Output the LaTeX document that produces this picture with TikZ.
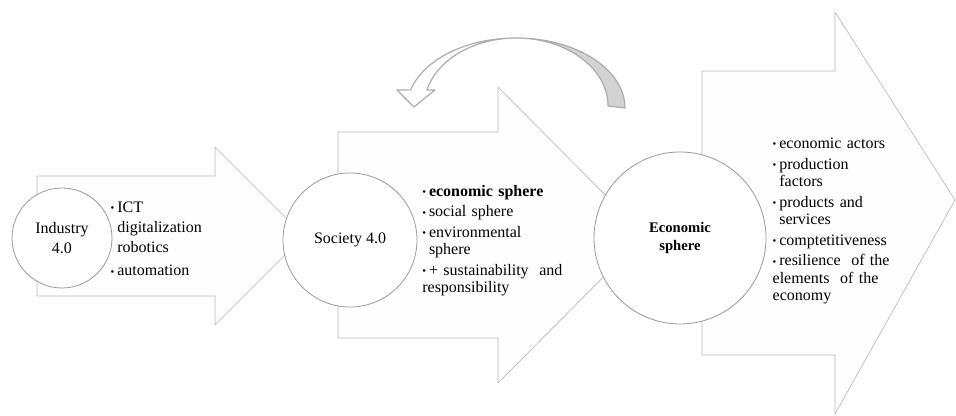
\documentclass[tikz,border=0pt]{standalone}
\usepackage{fontspec}
\setmainfont{Liberation Serif}
\usetikzlibrary{positioning}
% bullet item with hanging indent
\newcommand{\bitem}[1]{\par\vspace{2.5pt}\hangindent=5pt\hangafter=1\noindent\makebox[5pt][l]{\raisebox{.5pt}{\footnotesize\textbullet}}#1}
\begin{document}
\begin{tikzpicture}[x=.75pt,y=.75pt,line join=round,
	arr/.style={draw=gray!55,fill=gray!1,line width=.5pt},
	circ/.style={circle,draw=gray!80,fill=white,line width=.6pt,align=center,inner sep=0pt,font=\fontsize{12}{15}\selectfont},
	lst/.style={inner sep=0pt,text width=#1,font=\fontsize{12}{13}\selectfont},
	curv/.style={draw=gray!65,line width=.9pt}]
	\useasboundingbox (0,0) rectangle (956,416);
	% big arrows: left, right, body half, head half, tip x, centre, tip y
	\foreach \bl/\br/\bh/\hh/\tx/\cy/\ty in {37/215/60/89/304/180/180, 338/498/103/148/645/181/181, 702/835/142/201/955/203/216}
		\draw[arr] (\bl,\cy-\bh)--(\br,\cy-\bh)--(\br,\cy-\hh)--(\tx,\ty)--(\br,\cy+\hh)--(\br,\cy+\bh)--(\bl,\cy+\bh)--cycle;
	\node[circ,minimum size=75pt] (ind) at (62,178) {Industry\\4.0};
	\node[circ,minimum size=100.5pt] (soc) at (350,176) {Society 4.0};
	\node[circ,minimum size=129pt,font=\fontsize{11}{13.5}\selectfont\bfseries] (eco) at (680,178) {Economic\\sphere};
	\node[lst=70pt,font=\fontsize{12}{15}\selectfont,right=-1.5pt of ind,yshift=4pt] (indl) {\bitem{ICT\newline digitalization\newline robotics}\bitem{automation}};
	\node[lst=110pt,right=3.5pt of soc,yshift=3pt] (socl) {\bitem{\textbf{economic sphere}}\bitem{social sphere}\bitem{environmental\newline sphere}\bitem{+ sustainability\ \ and\newline responsibility}};
	\node[lst=100pt,right=4.5pt of eco,yshift=16.5pt] (ecol) {\bitem{economic actors}\bitem{production\newline factors}\bitem{products and\newline services}\bitem{comptetitiveness}\bitem{resilience\ \ of the\newline elements\ \ of the\newline economy}};
	% curved feedback arrow
	\draw[curv,fill=gray!35] (625,308) arc[start angle=0,end angle=90,x radius=109,y radius=70] arc[start angle=90,end angle=0,x radius=92,y radius=68]--cycle;
	\draw[curv,fill=white] (516,378) arc[start angle=90,end angle=165,x radius=109,y radius=70]--(397,326)--(414,309)--(435,326)--(427,326) arc[start angle=166.4,end angle=90,x radius=92,y radius=68]--cycle;
\end{tikzpicture}
\end{document}
